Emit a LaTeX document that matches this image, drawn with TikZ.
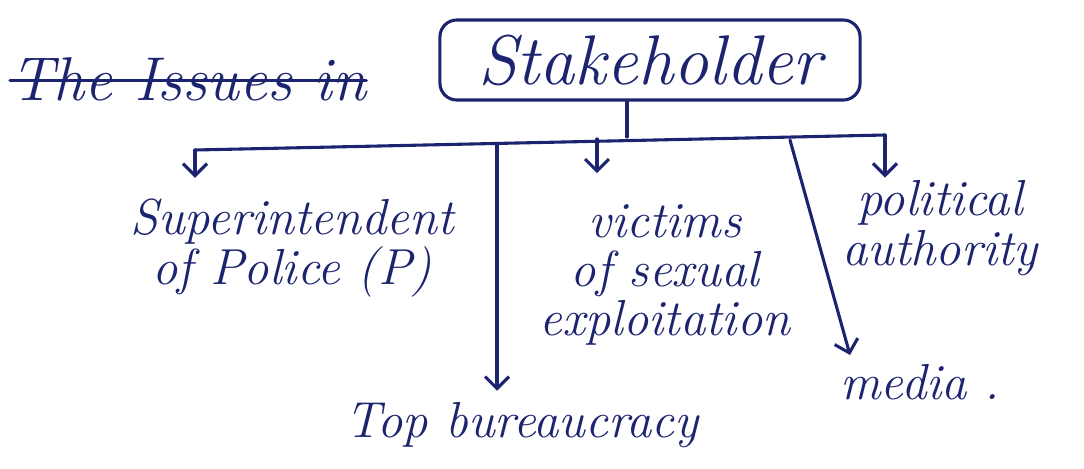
\documentclass[tikz,border=0pt]{standalone}
\usepackage{fontspec}
\usetikzlibrary{arrows.meta}
\definecolor{ink}{RGB}{28,36,112}
\tikzset{
  pen/.style={draw=ink, line width=2.2pt, line cap=round},
  arr/.style={pen, -{Straight Barb[length=3mm,width=6mm,line width=2.2pt]}},
  hand/.style={text=ink, font=\fontsize{36}{35}\selectfont\itshape, align=center, inner sep=0pt},
}
\begin{document}
\begin{tikzpicture}[x=0.025cm,y=-0.025cm]
\useasboundingbox (0,0) rectangle (1084,468);
% head of the tree
\node[hand, font=\fontsize{50}{50}\selectfont\itshape, draw=ink, line width=2.2pt,
  rounded corners=12pt, minimum width=10.5cm, minimum height=2cm] (stake) at (650,60) {Stakeholder};
\node[hand, font=\fontsize{44}{44}\selectfont\itshape, anchor=base west] (issues) at (10,100) {The Issues in};
\draw[pen] ([yshift=-1pt]issues.west) -- ([yshift=-1pt]issues.east);
% the bus
\coordinate (bus) at (627,137);
\coordinate (busL) at (195,150);
\coordinate (busR) at (885,135);
\coordinate (bureau) at (497,145);
\coordinate (vicTop) at (597,139);
\coordinate (mediaTop) at (790,140);
\draw[pen] (bus |- stake.south) -- (bus);
\draw[pen] (busL) -- (busR);
% the stakeholders
\node[hand] (sp) at (292,248) {Superintendent\\of Police (P)};
\node[hand] (vic) at (665,275) {victims\\of sexual\\exploitation};
\node[hand] (pol) at (940,228) {political\\authority};
\node[hand] (top) at (522,425) {Top bureaucracy};
\node[hand, anchor=west] (media) at (840,382) {media .};
\draw[arr, shorten >=15pt] (busL) -- (busL |- sp.north);
\draw[arr, shorten >=22pt] (vicTop) -- (vicTop |- vic.north);
\draw[arr, shorten >=2pt] (busR) -- (busR |- pol.north);
\draw[arr, shorten >=8pt] (bureau) -- (bureau |- top.north);
\draw[arr] (mediaTop) -- (850,355);
\end{tikzpicture}
\end{document}
